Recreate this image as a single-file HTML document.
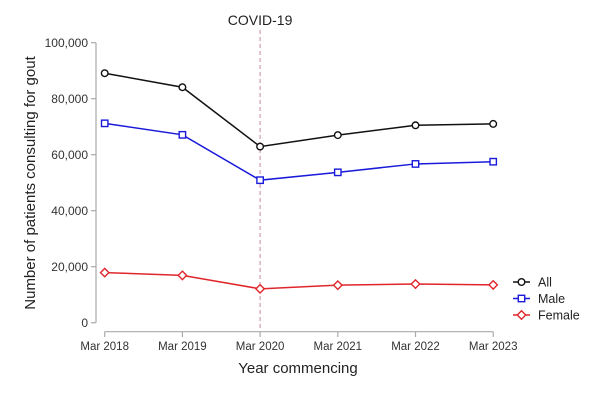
<!DOCTYPE html>
<html><head><meta charset="utf-8"><style>
html,body{margin:0;padding:0;background:#fff;}
svg{display:block;font-family:"Liberation Sans",Arial,sans-serif;}
</style></head><body>
<svg id="chart" width="602" height="401">
<g id="axes"></g><g id="series"></g><g id="legend"></g>
</svg>
<script>
const categories=["Mar 2018","Mar 2019","Mar 2020","Mar 2021","Mar 2022","Mar 2023"];
const allValues=[89100,84100,62900,67000,70500,71000];
const maleValues=[71200,67100,50900,53700,56700,57500];
const femaleValues=[17900,16900,12100,13400,13800,13500];
const yTicks=[0,20000,40000,60000,80000,100000];
const yTickLabels=["0","20,000","40,000","60,000","80,000","100,000"];
const NS="http://www.w3.org/2000/svg";
function xS(i){return 104.7+i*77.7;}
function yS(v){return 322.7-v*(280/100000);}
function mk(tag,attrs,parent,text){const e=document.createElementNS(NS,tag);for(const k in attrs)e.setAttribute(k,attrs[k]);if(text!==undefined)e.textContent=text;parent.appendChild(e);return e;}
const axes=document.getElementById('axes'),ser=document.getElementById('series'),leg=document.getElementById('legend');
const ax=mk('line',{x1:96,y1:yS(0),x2:96,y2:yS(100000),stroke:'#aaa','stroke-width':1.2},axes);

yTicks.forEach((t,i)=>{
 const l=mk('line',{x1:91,x2:96,y1:yS(t),y2:yS(t),stroke:'#aaa','stroke-width':1.2},axes);
 
 const tx=mk('text',{x:88,y:yS(t)+4.5,'text-anchor':'end','font-size':12,fill:'#333'},axes,yTickLabels[i]);
 
});
const xa=mk('line',{x1:xS(0),x2:xS(categories.length-1),y1:331.7,y2:331.7,stroke:'#aaa','stroke-width':1.2},axes);

categories.forEach((c,i)=>{
 const l=mk('line',{x1:xS(i),x2:xS(i),y1:331.7,y2:337,stroke:'#aaa','stroke-width':1.2},axes);
 
 const tx=mk('text',{x:xS(i),y:350,'text-anchor':'middle','font-size':11.5,fill:'#333'},axes,c);
 
});
const xt=mk('text',{x:298,y:373,'text-anchor':'middle','font-size':15,fill:'#222'},axes,'Year commencing');

const yt=mk('text',{x:0,y:0,transform:'translate(35,183) rotate(-90)','text-anchor':'middle','font-size':15,fill:'#222'},axes,'Number of patients consulting for gout');

const cv=mk('line',{x1:xS(2),x2:xS(2),y1:30,y2:331,stroke:'#c98a9a','stroke-width':1,'stroke-dasharray':'4,3'},axes);

const ct=mk('text',{x:xS(2),y:25,'text-anchor':'middle','font-size':14,fill:'#222'},axes,'COVID-19');

function marker(type,x,y,color,parent){
 let e;
 if(type==='circle')e=mk('circle',{cx:x,cy:y,r:3.3,fill:'#fff',stroke:color,'stroke-width':1.4},parent);
 else if(type==='square')e=mk('rect',{x:x-3.2,y:y-3.2,width:6.4,height:6.4,fill:'#fff',stroke:color,'stroke-width':1.4},parent);
 else e=mk('polygon',{points:`${x},${y-4.2} ${x+4.2},${y} ${x},${y+4.2} ${x-4.2},${y}`,fill:'#fff',stroke:color,'stroke-width':1.4},parent);
 return e;
}
const seriesDefs=[["All",allValues,'#111','circle'],["Male",maleValues,'#1a1adb','square'],["Female",femaleValues,'#e0262b','diamond']];
seriesDefs.forEach((s,si)=>{
 const pl=mk('polyline',{points:s[1].map((v,i)=>xS(i)+','+yS(v)).join(' '),fill:'none',stroke:s[2],'stroke-width':1.5},ser);
 
 s[1].forEach((v,i)=>{const m=marker(s[3],xS(i),yS(v),s[2],ser);
  });
 const ly=282+si*16.5;
 const ll=mk('line',{x1:513,x2:530,y1:ly,y2:ly,stroke:s[2],'stroke-width':1.5},leg);
 
 const lm=marker(s[3],521.5,ly,s[2],leg);
 
 const lt=mk('text',{x:538,y:ly+4.5,'font-size':12.5,fill:'#222'},leg,s[0]);
 
});
</script>
</body></html>
